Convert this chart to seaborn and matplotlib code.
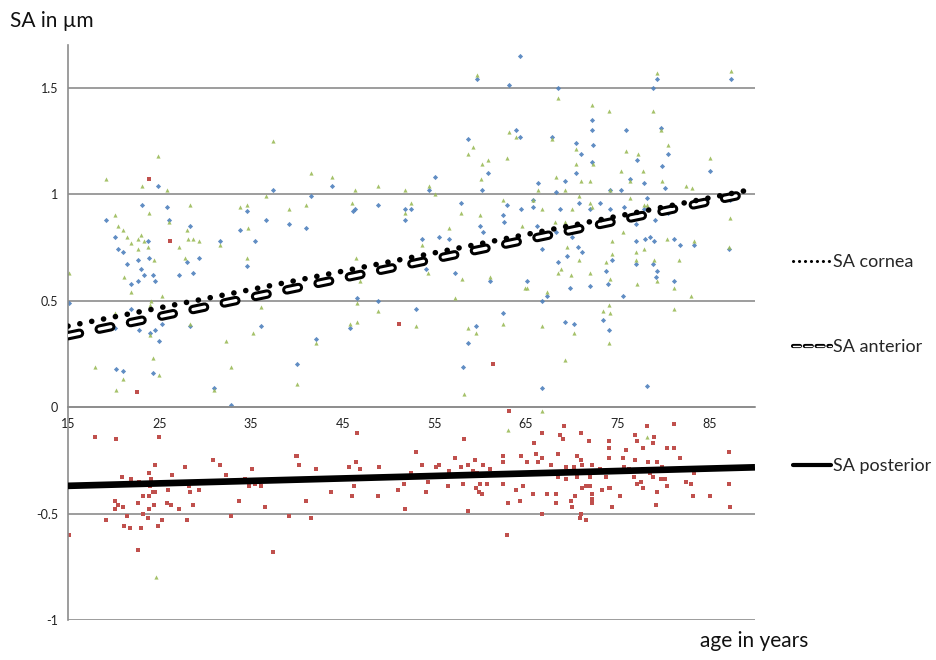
import numpy as np
import pandas as pd
import matplotlib
matplotlib.use("Agg")
import matplotlib.pyplot as plt
import matplotlib.patheffects as pe
from matplotlib.lines import Line2D
import seaborn as sns

# SA cornea (blue diamonds): age, SA
cornea_age = [24.8, 19.1, 23.1, 25.8, 26.0, 20.1, 20.5, 21.0, 22.6, 23.8, 23.7, 23.0, 23.3, 21.5, 21.9, 22.6,
              24.3, 24.5, 28.0, 28.3, 29.3, 28.6, 27.1, 31.6, 33.8, 34.5, 35.4, 34.6, 36.6, 37.4, 39.1, 21.9,
              20.1, 22.8, 24.0, 24.5, 24.9, 25.3, 28.3, 36.1, 15.1, 20.2, 21.0, 24.3, 30.9, 32.8,
              64.3, 59.7, 63.1, 63.9, 64.4, 58.7, 60.9, 60.2, 55.1, 54.4, 43.8, 41.5, 41.0, 46.1, 46.3, 48.8,
              51.8, 52.4, 51.8, 57.9, 62.5, 62.6, 62.9, 60.0, 60.3, 64.5, 53.6, 55.5, 56.6, 54.1, 57.3, 46.5,
              48.9, 53.0, 45.8, 42.1, 40.0, 59.5, 58.7, 58.1, 62.5, 61.1,
              79.3, 87.4, 78.9, 68.5, 72.2, 72.2, 75.9, 67.8, 72.3, 70.5, 71.0, 79.7, 80.5, 77.1, 72.2, 70.5,
              79.8, 85.1, 76.4, 75.4, 74.2, 77.9, 80.2, 66.3, 69.3, 68.3, 65.8, 65.8, 68.7, 70.8, 73.1, 72.0,
              74.2, 75.7, 77.9, 78.2, 80.5, 66.2, 79.1, 77.0, 68.3, 70.0, 66.8, 70.7, 71.1, 69.5, 77.0, 78.0,
              78.5, 79.0, 81.2, 81.8, 83.3, 87.2, 87.3, 74.4, 68.5, 73.7, 77.0, 78.9, 79.3, 79.2, 72.0, 74.0,
              69.8, 65.1, 81.2, 75.6, 67.3, 66.7, 69.3, 70.2, 73.4, 74.1, 66.7, 78.2]
cornea_sa = [1.04, 0.88, 0.95, 0.94, 0.88, 0.80, 0.74, 0.73, 0.69, 0.70, 0.78, 0.65, 0.62, 0.67, 0.58, 0.59,
             0.62, 0.59, 0.68, 0.85, 0.70, 0.63, 0.62, 0.78, 0.83, 0.92, 0.78, 0.66, 0.88, 1.02, 0.86, 0.46,
             0.37, 0.36, 0.35, 0.36, 0.31, 0.39, 0.38, 0.38, 0.49, 0.18, 0.17, 0.16, 0.09, 0.01,
             1.65, 1.54, 1.51, 1.30, 1.27, 1.26, 1.10, 1.02, 1.08, 1.02, 1.04, 0.99, 0.84, 0.92, 0.93, 0.95,
             0.93, 0.93, 0.88, 0.96, 0.90, 0.87, 0.95, 0.85, 0.82, 0.93, 0.79, 0.80, 0.79, 0.65, 0.63, 0.51,
             0.50, 0.46, 0.37, 0.32, 0.20, 0.38, 0.30, 0.19, 0.44, 0.59,
             1.54, 1.54, 1.50, 1.50, 1.35, 1.30, 1.30, 1.27, 1.23, 1.24, 1.19, 1.31, 1.19, 1.16, 1.15, 1.10,
             1.13, 1.11, 1.07, 1.02, 1.02, 1.05, 1.03, 1.05, 1.06, 1.01, 0.97, 0.94, 0.93, 0.96, 0.96, 0.93,
             0.93, 0.94, 0.93, 0.98, 0.91, 0.85, 0.88, 0.86, 0.82, 0.80, 0.74, 0.75, 0.73, 0.71, 0.78, 0.79,
             0.80, 0.78, 0.79, 0.76, 0.76, 0.74, 0.97, 0.69, 0.68, 0.64, 0.67, 0.67, 0.64, 0.61, 0.57, 0.58,
             0.56, 0.59, 0.59, 0.52, 0.52, 0.50, 0.40, 0.39, 0.41, 0.36, 0.09, 0.10]

# SA anterior (green triangles): age, SA
anterior_age = [24.8, 19.1, 23.1, 25.8, 37.4, 36.6, 39.1, 20.1, 23.8, 28.3, 33.8, 34.5, 20.5, 21.0, 21.5, 23.0,
                22.7, 23.3, 21.9, 22.6, 23.7, 26.0, 28.0, 28.1, 28.6, 29.3, 27.1, 24.4, 27.8, 31.6, 34.6, 34.7,
                15.1, 21.1, 21.9, 25.3, 24.1, 24.0, 20.1, 24.0, 28.3, 35.2, 36.1, 32.2, 18.0, 21.0, 20.2, 24.3,
                24.9, 30.9, 32.8,
                59.7, 63.1, 63.9, 59.2, 58.7, 60.2, 60.9, 60.1, 62.9, 41.5, 43.8, 48.8, 46.3, 51.8, 54.4, 55.1,
                41.0, 46.0, 52.4, 51.8, 57.9, 62.5, 60.0, 56.6, 64.6, 53.6, 46.4, 46.9, 54.3, 58.0, 61.1, 57.3,
                46.5, 48.9, 45.8, 46.5, 53.0, 42.1, 58.7, 59.5, 62.5, 40.0, 58.2, 64.9,
                79.3, 87.4, 68.5, 72.2, 74.1, 78.9, 79.7, 67.8, 70.5, 80.5, 75.9, 77.2, 85.1, 70.5, 72.3, 68.3,
                75.4, 76.4, 77.8, 79.8, 71.0, 72.0, 74.2, 82.5, 83.1, 66.3, 69.3, 70.8, 76.4, 65.8, 72.0, 72.2,
                70.0, 77.9, 78.2, 66.8, 69.3, 75.6, 68.2, 87.3, 80.4, 83.3, 77.9, 74.4, 69.5, 70.8, 77.0, 77.0,
                79.0, 81.7, 87.2, 74.4, 73.7, 68.8, 68.5, 69.9, 72.0, 74.2, 79.3, 65.1, 81.2, 77.1, 67.3, 83.0,
                73.4, 74.1, 74.2, 81.2, 66.7, 70.2, 74.1, 69.3, 66.7,
                24.6, 63.0, 78.2]
anterior_sa = [1.18, 1.07, 1.04, 1.02, 1.25, 0.99, 0.93, 0.90, 0.91, 0.95, 0.94, 0.95, 0.85, 0.83, 0.80, 0.81,
               0.79, 0.78, 0.77, 0.74, 0.75, 0.87, 0.83, 0.79, 0.79, 0.78, 0.75, 0.69, 0.70, 0.76, 0.70, 0.84,
               0.63, 0.61, 0.54, 0.52, 0.50, 0.48, 0.44, 0.34, 0.39, 0.35, 0.47, 0.31, 0.19, 0.13, 0.08, 0.23,
               0.15, 0.08, 0.19,
               1.56, 1.29, 1.27, 1.22, 1.19, 1.14, 1.16, 1.07, 1.17, 1.10, 1.08, 1.04, 1.02, 1.02, 1.04, 1.00,
               0.95, 0.96, 0.96, 0.91, 0.91, 0.97, 0.90, 0.84, 0.85, 0.76, 0.70, 0.59, 0.63, 0.60, 0.61, 0.51,
               0.49, 0.45, 0.39, 0.40, 0.38, 0.30, 0.37, 0.35, 0.39, 0.11, 0.06, 0.56,
               1.57, 1.58, 1.45, 1.42, 1.39, 1.39, 1.30, 1.26, 1.21, 1.23, 1.20, 1.19, 1.17, 1.14, 1.14, 1.08,
               1.11, 1.06, 1.11, 1.06, 1.06, 1.06, 1.02, 1.04, 1.03, 1.02, 1.02, 0.99, 0.98, 0.97, 0.96, 0.94,
               0.93, 0.95, 0.95, 0.93, 0.87, 0.82, 0.87, 0.89, 0.79, 0.78, 0.74, 0.78, 0.75, 0.69, 0.73, 0.69,
               0.69, 0.69, 0.75, 0.72, 0.68, 0.65, 0.63, 0.62, 0.63, 0.60, 0.59, 0.56, 0.56, 0.58, 0.54, 0.52,
               0.45, 0.48, 0.44, 0.46, 0.38, 0.35, 0.30, 0.22, -0.02,
               -0.80, -0.11, -0.14]

# SA posterior (red squares): age, SA
posterior_age = [23.9, 26.1, 22.5, 51.1, 61.4, 63.1,
                 18.0, 20.2, 24.9, 15.1, 30.8, 31.6, 27.8, 24.5, 23.9, 26.4, 32.2, 35.1, 20.9, 21.9, 22.8, 24.1,
                 34.3, 34.8, 35.4, 36.1, 24.0, 28.2, 24.3, 25.9, 28.3, 29.3, 23.2, 23.8, 24.5, 20.1, 20.5, 21.0,
                 20.1, 22.6, 24.4, 25.8, 26.3, 23.8, 27.1, 28.6, 33.7, 36.5, 23.2, 23.7, 21.5, 19.1, 25.3, 28.0,
                 32.8, 39.1, 21.1, 21.8, 23.0, 24.8, 22.6, 37.4, 39.9,
                 40.0, 40.2, 42.1, 41.0, 41.5, 46.5, 45.7, 46.4, 46.9, 49.0, 43.7, 46.2, 46.0, 48.8, 51.0, 51.7,
                 51.8, 52.4, 53.0, 53.6, 54.1, 54.3, 55.2, 55.5, 56.6, 56.5, 57.3, 57.9, 58.2, 58.1, 58.7, 59.4,
                 59.2, 59.5, 59.7, 60.0, 59.9, 60.2, 60.3, 60.8, 61.1, 58.7, 62.5, 62.5, 62.5, 63.0, 62.9, 63.9,
                 64.3, 64.5, 64.7,
                 66.7, 69.2, 68.7, 69.0, 71.0, 71.9, 74.1, 74.1, 76.9, 77.1, 78.2, 79.0, 78.9, 77.8, 81.2, 80.4,
                 81.2, 75.9, 65.9, 66.1, 66.7, 68.5, 70.6, 71.0, 65.1, 66.3, 67.7, 71.1, 72.2, 74.1, 75.6, 76.9,
                 78.3, 79.3, 81.8, 87.2, 69.4, 70.2, 73.1, 75.7, 76.3, 77.8, 79.8, 64.8, 68.5, 69.4, 70.6, 72.0,
                 73.7, 76.8, 78.5, 78.9, 79.7, 80.2, 82.5, 83.3, 72.0, 71.6, 77.1, 77.6, 80.4, 83.0, 87.2, 64.7,
                 71.1, 74.1, 74.2, 73.3, 77.8, 72.2, 65.8, 67.3, 68.3, 70.4, 75.3, 79.3, 83.2, 85.1, 72.2, 72.2,
                 68.3, 69.9, 70.0, 74.4, 79.2, 87.3, 66.8, 71.0, 70.9, 71.5]
posterior_sa = [1.07, 0.78, 0.07, 0.39, 0.20, -0.02,
                -0.14, -0.15, -0.14, -0.60, -0.25, -0.27, -0.28, -0.27, -0.31, -0.32, -0.32, -0.29, -0.33, -0.34,
                -0.35, -0.34, -0.34, -0.37, -0.36, -0.37, -0.37, -0.37, -0.40, -0.39, -0.40, -0.39, -0.42, -0.42,
                -0.40, -0.44, -0.46, -0.47, -0.48, -0.45, -0.46, -0.45, -0.46, -0.48, -0.48, -0.46, -0.44, -0.47,
                -0.50, -0.52, -0.51, -0.53, -0.53, -0.53, -0.51, -0.51, -0.56, -0.57, -0.57, -0.56, -0.67, -0.68,
                -0.23,
                -0.23, -0.27, -0.29, -0.44, -0.52, -0.12, -0.28, -0.26, -0.29, -0.28, -0.40, -0.37, -0.42, -0.42,
                -0.39, -0.36, -0.48, -0.31, -0.21, -0.27, -0.40, -0.35, -0.28, -0.27, -0.30, -0.37, -0.24, -0.28,
                -0.15, -0.36, -0.27, -0.25, -0.30, -0.38, -0.31, -0.36, -0.40, -0.41, -0.27, -0.36, -0.29, -0.49,
                -0.23, -0.26, -0.36, -0.45, -0.60, -0.39, -0.44, -0.23, -0.37,
                -0.12, -0.09, -0.13, -0.15, -0.12, -0.16, -0.16, -0.19, -0.13, -0.16, -0.09, -0.14, -0.17, -0.19,
                -0.08, -0.19, -0.19, -0.20, -0.17, -0.22, -0.24, -0.22, -0.23, -0.25, -0.26, -0.26, -0.27, -0.27,
                -0.27, -0.24, -0.24, -0.25, -0.26, -0.26, -0.24, -0.21, -0.28, -0.28, -0.29, -0.28, -0.29, -0.29,
                -0.28, -0.31, -0.33, -0.34, -0.33, -0.33, -0.33, -0.33, -0.31, -0.33, -0.34, -0.34, -0.35, -0.31,
                -0.37, -0.37, -0.36, -0.35, -0.37, -0.36, -0.36, -0.37, -0.38, -0.38, -0.38, -0.39, -0.38, -0.41,
                -0.41, -0.41, -0.41, -0.42, -0.42, -0.40, -0.42, -0.42, -0.43, -0.45, -0.45, -0.44, -0.47, -0.47,
                -0.46, -0.47, -0.50, -0.50, -0.52, -0.53]

# linear trend lines: SA at age 15 and at age 90
trend_age = [15, 90]
trend_cornea = [0.38, 1.025]
trend_anterior = [0.335, 1.01]
trend_posterior = [-0.37, -0.283]

sns.set_style("white")
plt.rcParams['font.family'] = ['Lato', 'DejaVu Sans']
plt.rcParams['lines.scale_dashes'] = False

fig = plt.figure(figsize=(9.36, 6.6), dpi=100)
ax = fig.add_axes([0.0726, 0.0606, 0.7340, 0.8712])

sns.scatterplot(x=cornea_age, y=cornea_sa, marker='D', color='#4F81BD', s=7, linewidth=0, alpha=0.9, ax=ax)
sns.scatterplot(x=anterior_age, y=anterior_sa, marker='^', color='#9BBB59', s=9, linewidth=0, alpha=0.9, ax=ax)
sns.scatterplot(x=posterior_age, y=posterior_sa, marker='s', color='#C0504D', s=11, linewidth=0, ax=ax)

# trend lines
ax.plot(trend_age, trend_anterior, color='white', lw=2.4, dashes=(8.5, 14.5), dash_capstyle='round',
        path_effects=[pe.Stroke(linewidth=6.8, foreground='black'), pe.Normal()], zorder=4)
ax.plot(trend_age, trend_cornea, color='black', lw=4.0, dashes=(0.1, 8.6), dash_capstyle='round', zorder=5)
ax.plot(trend_age, trend_posterior, color='black', lw=4.8, solid_capstyle='butt', zorder=5)

ax.set_xlim(15, 90)
ax.set_ylim(-1, 1.7)
ax.set_xticks([15, 25, 35, 45, 55, 65, 75, 85])
ax.set_yticks([-1, -0.5, 0, 0.5, 1, 1.5])
ax.set_yticklabels(['-1', '-0.5', '0', '0.5', '1', '1.5'])
ax.set_axisbelow(True)
ax.yaxis.grid(True, color='#8c8c8c', lw=1.2)
ax.xaxis.grid(False)

for s in ['top', 'right']:
    ax.spines[s].set_visible(False)
ax.spines['bottom'].set_position(('data', 0))
ax.spines['bottom'].set_color('#8c8c8c')
ax.spines['left'].set_color('#8c8c8c')
ax.spines['bottom'].set_linewidth(1.2)
ax.spines['left'].set_linewidth(1.2)
ax.tick_params(axis='both', direction='out', length=3, width=1, color='#8c8c8c',
               labelsize=9, labelcolor='#222222', pad=4)
ax.tick_params(axis='x', pad=5)

# legends, one per series, placed like the original
leg_font = 13
h_cornea = Line2D([], [], color='black', lw=2.2, dashes=(0.1, 4.2), dash_capstyle='round')
h_anterior = Line2D([], [], color='white', lw=1.0, dashes=(5, 3.5), dash_capstyle='round',
                    path_effects=[pe.Stroke(linewidth=3, foreground='black'), pe.Normal()])
h_posterior = Line2D([], [], color='black', lw=3)
for h, lab, ypx in [(h_cornea, 'SA cornea', 262), (h_anterior, 'SA anterior', 347),
                    (h_posterior, 'SA posterior', 466)]:
    fig.legend(handles=[h], labels=[lab], loc='center left', bbox_to_anchor=(793 / 936, 1 - ypx / 660),
               frameon=False, fontsize=leg_font, handlelength=2.1, handletextpad=0.1,
               borderpad=0, borderaxespad=0)

fig.text(10 / 936, 1 - 21 / 660, 'SA in µm', fontsize=15, va='center', ha='left', color='#111111')
fig.text(700 / 936, 1 - 641 / 660, 'age in years', fontsize=15, va='center', ha='left', color='#111111')

plt.savefig('out.png', dpi=100)
